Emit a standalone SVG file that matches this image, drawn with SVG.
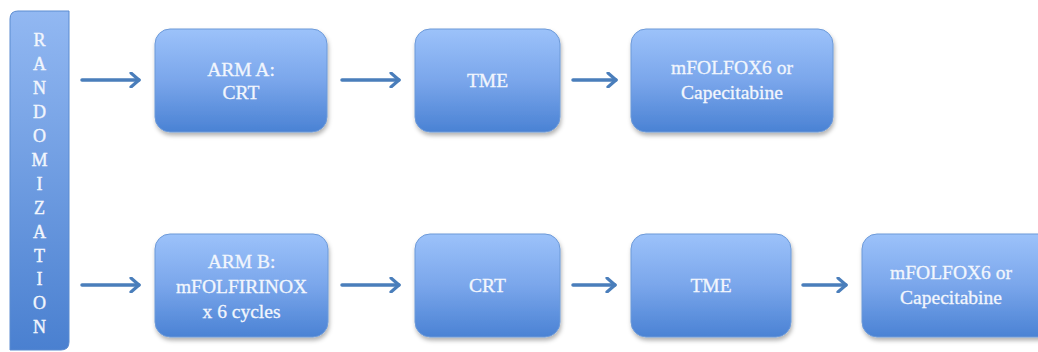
<svg xmlns="http://www.w3.org/2000/svg" width="1038" height="352" viewBox="0 0 1038 352">
<defs>
<linearGradient id="g" x1="0" y1="0" x2="0" y2="1">
<stop offset="0" stop-color="#9cc2fa"/>
<stop offset="0.5" stop-color="#7aa6eb"/>
<stop offset="1" stop-color="#4a82d4"/>
</linearGradient>
<linearGradient id="gb" x1="0" y1="0" x2="0" y2="1">
<stop offset="0" stop-color="#92b8f2"/>
<stop offset="1" stop-color="#4a80d0"/>
</linearGradient>
<filter id="sh" x="-10%" y="-10%" width="130%" height="130%">
<feDropShadow dx="1" dy="3" stdDeviation="2" flood-color="#000" flood-opacity="0.3"/>
</filter>
<marker id="ah" viewBox="0 0 12 16" refX="10" refY="8" markerWidth="12" markerHeight="16" markerUnits="userSpaceOnUse" orient="auto">
<path d="M2,1 L10,8 L2,15" fill="none" stroke="#4a7ebb" stroke-width="3.2" stroke-linecap="round" stroke-linejoin="round"/>
</marker>
<style>
.box{fill:url(#g);stroke:#6d9ad8;stroke-width:1;filter:url(#sh)}
.t{font-family:"Liberation Serif","Times New Roman",serif;font-size:19.5px;fill:#f2f6fd;stroke:#f2f6fd;stroke-width:0.3;text-anchor:middle}
.bt{font-family:"Liberation Serif","Times New Roman",serif;font-size:18px;fill:#f2f6fd;stroke:#f2f6fd;stroke-width:0.4;text-anchor:middle}
.c{stroke:#4a7ebb;stroke-width:3.5;fill:none;stroke-linecap:round;marker-end:url(#ah)}
</style>
</defs>
<g id="randomization">
<path d="M18,11 H69 V342 Q69,350 61,350 H10 V19 Q10,11 18,11 Z" fill="url(#gb)" stroke="#5b8bd0" stroke-width="1"/>
<text class="bt" x="39.5" y="46">R</text>
<text class="bt" x="39.5" y="70">A</text>
<text class="bt" x="39.5" y="94">N</text>
<text class="bt" x="39.5" y="118">D</text>
<text class="bt" x="39.5" y="142">O</text>
<text class="bt" x="39.5" y="166">M</text>
<text class="bt" x="39.5" y="190">I</text>
<text class="bt" x="39.5" y="214">Z</text>
<text class="bt" x="39.5" y="238">A</text>
<text class="bt" x="39.5" y="262">T</text>
<text class="bt" x="39.5" y="285">I</text>
<text class="bt" x="39.5" y="309">O</text>
<text class="bt" x="39.5" y="333">N</text>
</g>
<g id="armA">
<rect class="box" x="155" y="29" width="172" height="103" rx="15"/>
<text class="t" x="241" y="76">ARM A:</text>
<text class="t" x="241" y="99">CRT</text>
</g>
<g id="tmeA">
<rect class="box" x="415" y="29" width="145" height="103" rx="15"/>
<text class="t" x="487.5" y="87">TME</text>
</g>
<g id="chemoA">
<rect class="box" x="631" y="29" width="202" height="103" rx="15"/>
<text class="t" x="732" y="74">mFOLFOX6 or</text>
<text class="t" x="732" y="99">Capecitabine</text>
</g>
<g id="armB">
<rect class="box" x="155" y="234" width="173" height="103" rx="15"/>
<text class="t" x="241.5" y="268">ARM B:</text>
<text class="t" x="241.5" y="293">mFOLFIRINOX</text>
<text class="t" x="241.5" y="318">x 6 cycles</text>
</g>
<g id="crtB">
<rect class="box" x="415" y="234" width="145" height="103" rx="15"/>
<text class="t" x="487.5" y="292">CRT</text>
</g>
<g id="tmeB">
<rect class="box" x="631" y="234" width="160" height="103" rx="15"/>
<text class="t" x="711" y="292">TME</text>
</g>
<g id="chemoB">
<rect class="box" x="862" y="234" width="200" height="103" rx="15"/>
<text class="t" x="951" y="279">mFOLFOX6 or</text>
<text class="t" x="951" y="304">Capecitabine</text>
</g>
<g id="connectors">
<line class="c" x1="82" y1="80" x2="139" y2="80"/>
<line class="c" x1="342" y1="80" x2="399" y2="80"/>
<line class="c" x1="573" y1="80" x2="616" y2="80"/>
<line class="c" x1="82" y1="285" x2="139" y2="285"/>
<line class="c" x1="342" y1="285" x2="399" y2="285"/>
<line class="c" x1="573" y1="285" x2="615" y2="285"/>
<line class="c" x1="803" y1="285" x2="846" y2="285"/>
</g>
</svg>
